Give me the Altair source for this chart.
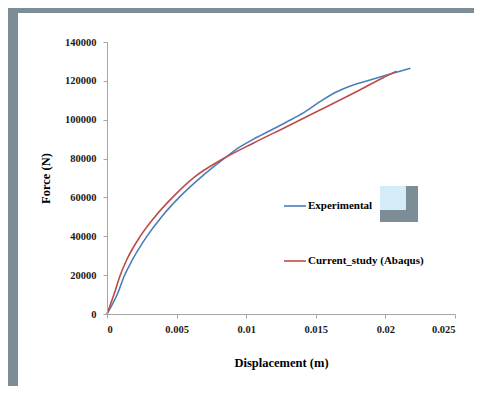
import altair as alt
import pandas as pd

# Data
exp_x = [0, 0.00077, 0.00124, 0.00182, 0.00285, 0.00393, 0.00524, 0.0068, 0.0085,
         0.00955, 0.0105, 0.0117, 0.0129, 0.0141, 0.0153, 0.0165, 0.0177, 0.0189,
         0.0201, 0.0218]
exp_y = [0, 10650, 19560, 27800, 39800, 50100, 60400, 70700, 80500,
         86000, 89900, 94300, 98800, 103500, 109300, 114400, 117900, 120400,
         123000, 126500]
cur_x = [0, 0.00053, 0.00093, 0.00141, 0.00237, 0.00345, 0.00476, 0.00632, 0.00812,
         0.0105, 0.0129, 0.0153, 0.0177, 0.0198, 0.0208]
cur_y = [0, 10650, 19560, 27800, 39800, 50100, 60400, 70700, 79000,
         87900, 96400, 105000, 113600, 121500, 125000]
series_names = ["Experimental", "Current_study (Abaqus)"]
series_colors = ["#4a7ebb", "#be4b48"]
x_ticks = [0, 0.005, 0.01, 0.015, 0.02, 0.025]
y_ticks = [0, 20000, 40000, 60000, 80000, 100000, 120000, 140000]

rows = []
for xv, yv in zip(exp_x, exp_y):
    rows.append({"disp": xv, "force": yv, "series": series_names[0], "o": 0})
for xv, yv in zip(cur_x, cur_y):
    rows.append({"disp": xv, "force": yv, "series": series_names[1], "o": 1})
df = pd.DataFrame(rows)

FONT = "Liberation Serif"
W, H = 348, 272
dummy = pd.DataFrame({"a": [0]})

# decorative page frame: white card
card = alt.Chart(dummy).mark_rect(color="white").encode(
    x=alt.value(-89), x2=alt.value(400), y=alt.value(-29), y2=alt.value(400)
)
sq_gray = alt.Chart(dummy).mark_rect(color="#7d8d95").encode(
    x=alt.value(273), x2=alt.value(311), y=alt.value(144), y2=alt.value(180)
)
sq_blue = alt.Chart(dummy).mark_rect(color="#d3ecf7").encode(
    x=alt.value(273), x2=alt.value(299), y=alt.value(144), y2=alt.value(168)
)

lines = alt.Chart(df).mark_line(strokeWidth=1.6, interpolate="monotone").encode(
    x=alt.X("disp:Q", title="Displacement (m)",
            scale=alt.Scale(domain=[0, 0.025], nice=False),
            axis=alt.Axis(values=x_ticks, format="~g", zindex=1,
                          titlePadding=22, labelPadding=6)),
    y=alt.Y("force:Q", title="Force (N)",
            scale=alt.Scale(domain=[0, 140000], nice=False),
            axis=alt.Axis(values=y_ticks, format="d", zindex=1,
                          titlePadding=12, labelPadding=7)),
    color=alt.Color("series:N", scale=alt.Scale(domain=series_names, range=series_colors),
                    legend=alt.Legend(title=None, orient="none", legendX=176, legendY=152,
                                      symbolType="stroke", symbolSize=484,
                                      symbolStrokeWidth=1.6, labelOffset=1,
                                      rowPadding=38, labelFont=FONT, labelFontSize=11,
                                      labelFontWeight="bold", labelColor="black")),
    order="o:Q",
    detail="series:N",
)

chart = alt.layer(card, lines, sq_gray, sq_blue).properties(
    width=W, height=H,
    background="#7d8d95",
    padding={"left": 99, "top": 34, "right": 19, "bottom": 72},
    autosize=alt.AutoSizeParams(type="none"),
).configure_view(stroke=None).configure_axis(
    grid=False,
    domainColor="#a6a6a6",
    tickColor="#a6a6a6",
    tickSize=4,
    labelFont=FONT, labelFontSize=10.5, labelFontWeight="bold", labelColor="#1a1a1a",
    titleFont=FONT, titleFontSize=12.5, titleFontWeight="bold", titleColor="black",
)

chart.save("out.html", embed_options={"renderer": "svg", "actions": False})
